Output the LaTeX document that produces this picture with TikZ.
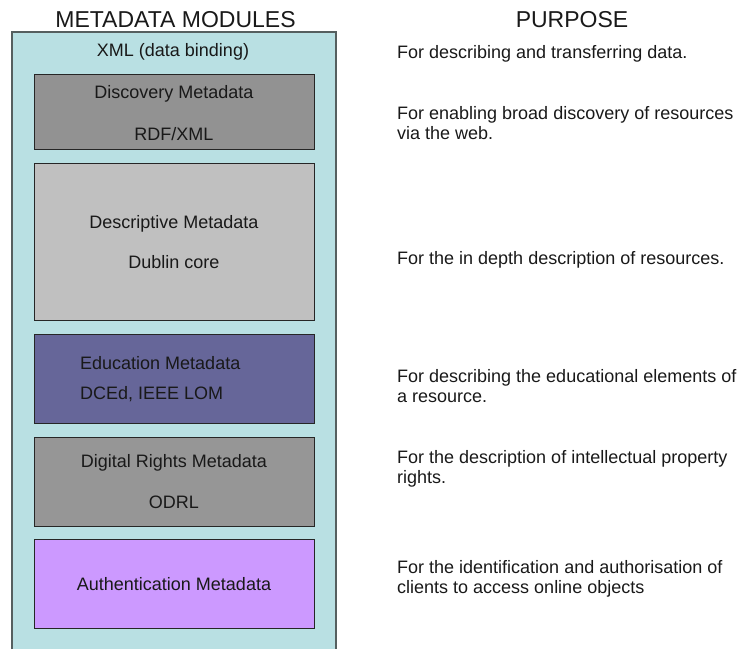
\documentclass[tikz,border=0pt]{standalone}
\usepackage{fontspec}
\setmainfont{Liberation Sans}
\definecolor{outerfill}{RGB}{185,224,227}
\definecolor{outerline}{RGB}{85,95,95}
\definecolor{discfill}{RGB}{146,146,146}
\definecolor{descfill}{RGB}{192,192,192}
\definecolor{edufill}{RGB}{102,102,153}
\definecolor{drmfill}{RGB}{150,150,150}
\definecolor{authfill}{RGB}{204,153,255}
\begin{document}
\begin{tikzpicture}[x=1pt,y=-1pt,
  modbox/.style={draw=black!85, line width=0.9pt, fill=#1, anchor=north west,
    minimum width=280pt, inner sep=0pt},
  body/.style={font=\fontsize{18}{20.7}\selectfont, inner sep=0pt, text=black!90},
  lbl/.style={body, anchor=base},
  purp/.style={body, anchor=base west},
  ttl/.style={font=\fontsize{23}{26}\selectfont, inner sep=0pt, anchor=base, text=black!90}]
\useasboundingbox (0,0) rectangle (740,649);
% outer container (open at the bottom)
\fill[outerfill] (12,32) rectangle (336,649);
\draw[outerline, line width=1.2pt] (12,649) -- (12,32) -- (336,32) -- (336,649);
% titles
\node[ttl] (t1) at (175.5,27) {METADATA MODULES};
\node[ttl] (t2) at (572,27) {PURPOSE};
% module boxes
\node[modbox=discfill, minimum height=75pt] (disc) at (34,74) {};
\node[modbox=descfill, minimum height=157pt] (desc) at (34,163) {};
\node[modbox=edufill, minimum height=89pt] (edu) at (34,334) {};
\node[modbox=drmfill, minimum height=89pt] (drm) at (34,437) {};
\node[modbox=authfill, minimum height=89pt] (auth) at (34,539) {};
% module labels
\node[lbl] (xml) at (173,56.5) {XML (data binding)};
\node[lbl] (disc1) at (174,98.3) {Discovery Metadata};
\node[lbl] (disc2) at (174,140) {RDF/XML};
\node[lbl] (desc1) at (174,228.3) {Descriptive Metadata};
\node[lbl] (desc2) at (174,268.3) {Dublin core};
\node[body, anchor=base west] (edu1) at (80,369.3) {Education Metadata};
\node[body, anchor=base west] (edu2) at (80,399.3) {DCEd, IEEE LOM};
\node[lbl] (drm1) at (174,467.3) {Digital Rights Metadata};
\node[lbl] (drm2) at (174,508.3) {ODRL};
\node[lbl] (auth1) at (174,590) {Authentication Metadata};
% purposes
\node[purp] (p1) at (397,58) {For describing and transferring data.};
\node[purp] (p2a) at (397,119) {For enabling broad discovery of resources};
\node[purp] (p2b) at (397,139) {via the web.};
\node[purp] (p3) at (397,264) {For the in depth description of resources.};
\node[purp] (p4a) at (397,382.7) {For describing the educational elements of};
\node[purp] (p4b) at (397,402.7) {a resource.};
\node[purp] (p5a) at (397,463) {For the description of intellectual property};
\node[purp] (p5b) at (397,483) {rights.};
\node[purp] (p6a) at (397,573) {For the identification and authorisation of};
\node[purp] (p6b) at (397,593) {clients to access online objects};
\end{tikzpicture}
\end{document}
